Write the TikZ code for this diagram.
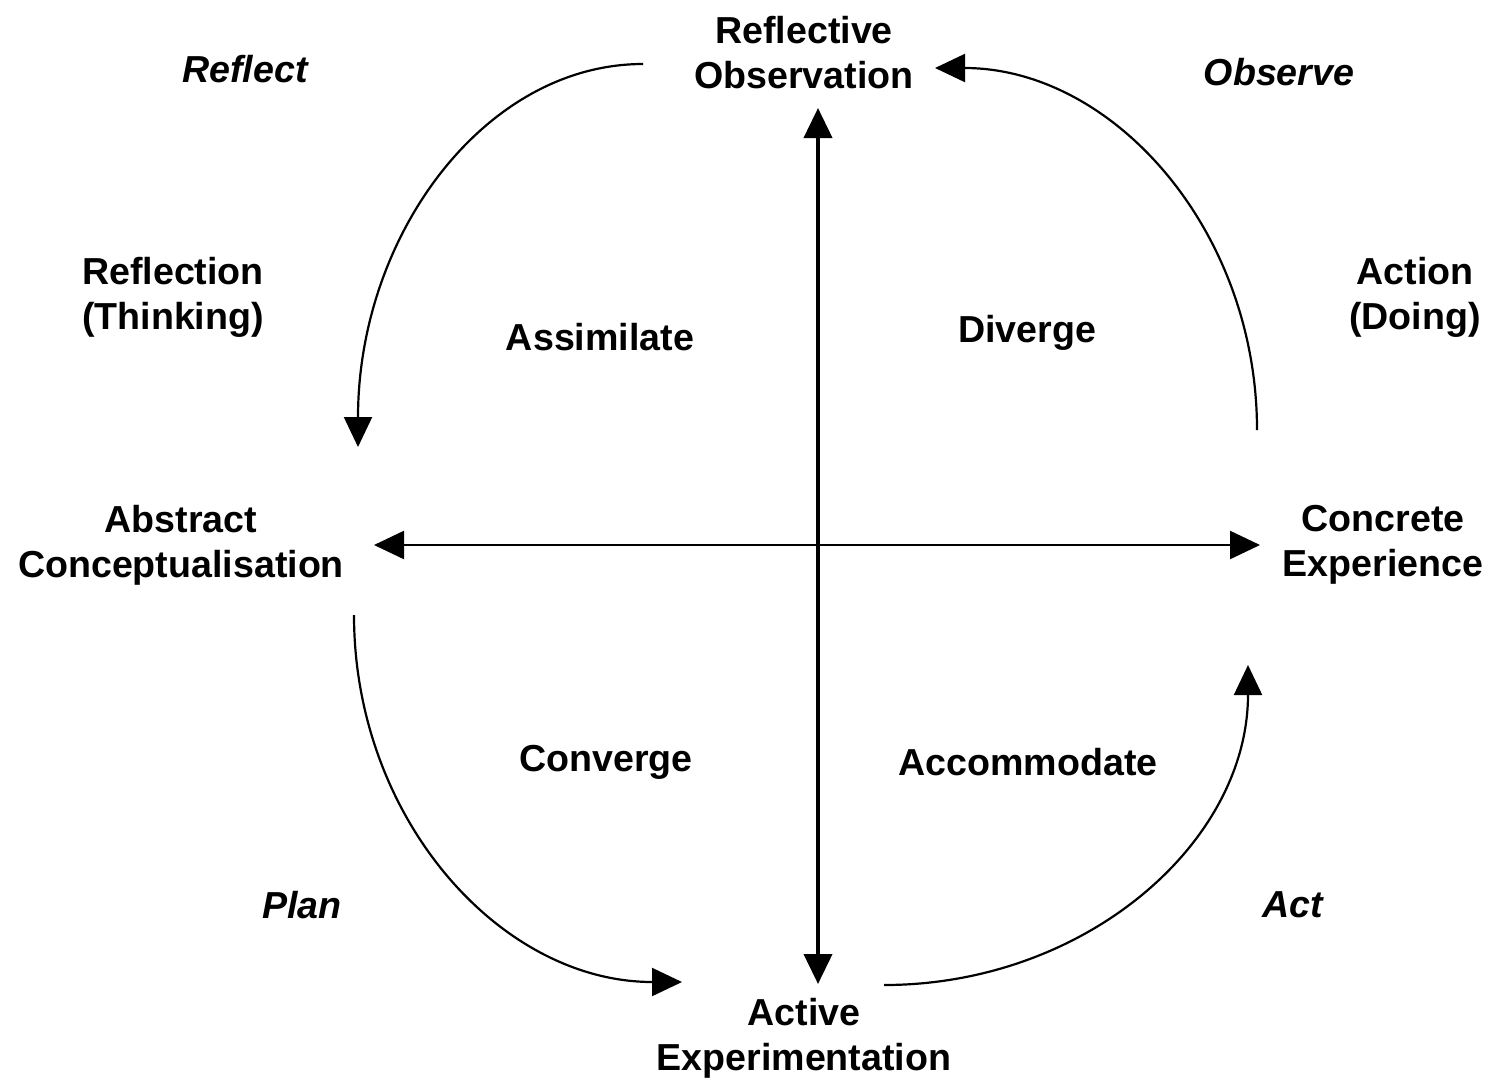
\documentclass[tikz,border=0pt]{standalone}
\usepackage{fontspec}
\setmainfont{Liberation Sans}
\usetikzlibrary{arrows.meta}
\begin{document}
\begin{tikzpicture}[x=0.5pt,y=-0.5pt,
  lbl/.style={font=\fontsize{18.8}{22.5}\selectfont\bfseries, align=center, inner sep=0pt},
  ilbl/.style={font=\fontsize{18.8}{22.5}\selectfont\bfseries\itshape, inner sep=0pt},
  tip/.style={-{Triangle[length=15pt,width=14pt]}},
  axis/.style={{Triangle[length=15pt,width=14pt]}-{Triangle[length=15pt,width=14pt]}},
  cyc/.style={line width=1.1pt, tip}
]
\useasboundingbox (0,0) rectangle (1492,1082);
% main labels
\node[lbl] (ro) at (804,53) {Reflective\\Observation};
\node[lbl] (ae) at (804,1038) {Active\\Experimentation};
\node[lbl] (ac) at (181,545) {Abstract\\Conceptualisation};
\node[lbl] (ce) at (1383,545) {Concrete\\Experience};
\node[lbl] (rt) at (173,297) {Reflection\\(Thinking)};
\node[lbl] (ad) at (1415,297) {Action\\(Doing)};
% quadrant labels
\node[lbl] (as) at (600,337) {Assimilate};
\node[lbl] (dv) at (1027,333) {Diverge};
\node[lbl] (cv) at (606,762) {Converge};
\node[lbl] (acm) at (1028,762) {Accommodate};
% italic cycle labels
\node[ilbl] (rf) at (245,69) {Reflect};
\node[ilbl] (ob) at (1279,72) {Observe};
\node[ilbl] (pl) at (302,905) {Plan};
\node[ilbl] (act) at (1293,905) {Act};
% axes
\coordinate (vt) at (818,108);
\coordinate (vb) at (818,984);
\coordinate (hl) at (374,545);
\coordinate (hr) at (1260,545);
\draw[axis, line width=2pt] (vt) -- (vb);
\draw[axis, line width=1.2pt] (hl) -- (hr);
% cycle arcs
\coordinate (a1) at (643,64);
\coordinate (b1) at (358,447);
\draw[cyc] (a1) .. controls (485,64) and (358,235) .. (b1);
\coordinate (a2) at (1257,430);
\coordinate (b2) at (935,68);
\draw[cyc] (a2) .. controls (1257,230) and (1113,68) .. (b2);
\coordinate (a3) at (354,615);
\coordinate (b3) at (682,982);
\draw[cyc] (a3) .. controls (354,818) and (500,982) .. (b3);
\coordinate (a4) at (884,985);
\coordinate (b4) at (1248,665);
\draw[cyc] (a4) .. controls (1085,985) and (1248,843) .. (b4);
\end{tikzpicture}
\end{document}
